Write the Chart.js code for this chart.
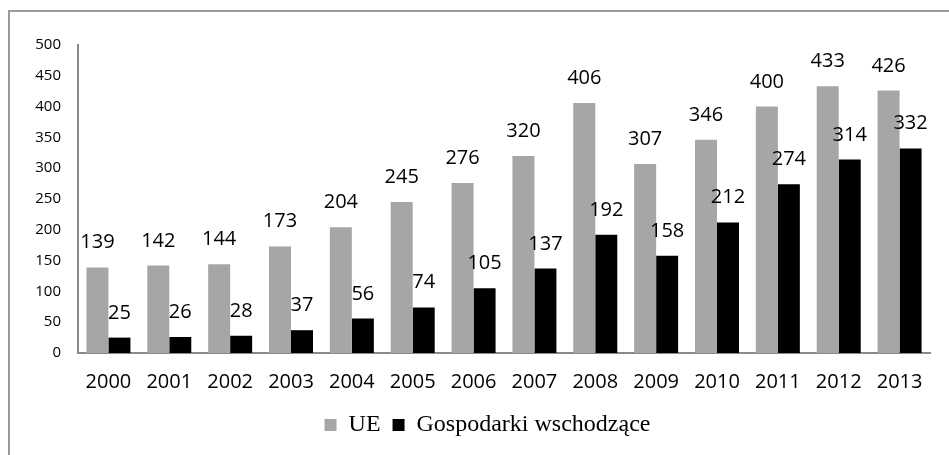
<!DOCTYPE html>
<html>
<head>
<meta charset="utf-8">
<script src="https://cdn.jsdelivr.net/npm/chart.js@4"></script>
<style>
  html, body { margin: 0; padding: 0; background: #fff; }
  #wrap { position: relative; width: 949px; height: 455px; overflow: hidden; }
  #frame { position: absolute; left: 8px; top: 10px; width: 1000px; height: 500px;
           border-left: 2px solid #9a9a9a; border-top: 2px solid #9a9a9a; pointer-events: none; }
  canvas { position: absolute; left: 0; top: 0; }
</style>
</head>
<body>
<div id="wrap">
  <canvas id="c" width="949" height="455"></canvas>
  <div id="frame"></div>
</div>
<script>
const categories = ['2000','2001','2002','2003','2004','2005','2006','2007','2008','2009','2010','2011','2012','2013'];
const seriesUE = [139, 142, 144, 173, 204, 245, 276, 320, 406, 307, 346, 400, 433, 426];
const seriesEmerging = [25, 26, 28, 37, 56, 74, 105, 137, 192, 158, 212, 274, 314, 332];
const seriesNames = ['UE', 'Gospodarki wschodzące'];
const yTicks = { min: 0, max: 500, step: 50 };

const valueLabels = {
  id: 'valueLabels',
  afterDatasetsDraw(chart) {
    const ctx = chart.ctx;
    ctx.save();
    ctx.font = "20px 'Open Sans'";
    ctx.fillStyle = '#000';
    ctx.textAlign = 'center';
    ctx.textBaseline = 'alphabetic';
    chart.data.datasets.forEach((ds, i) => {
      const meta = chart.getDatasetMeta(i);
      meta.data.forEach((el, j) => {
        ctx.fillText(String(ds.data[j]), el.x, el.y - 19);
      });
    });
    ctx.restore();
  }
};

// shift the legend so it is centred like in the original (centre of the framed box)
const legendShift = {
  id: 'legendShift',
  afterLayout(chart) {
    if (chart.legend) { chart.legend.left += 33; }
  }
};

new Chart(document.getElementById('c'), {
  type: 'bar',
  data: {
    labels: categories,
    datasets: [
      { label: seriesNames[0], data: seriesUE, backgroundColor: '#a6a6a6', borderWidth: 0 },
      { label: seriesNames[1], data: seriesEmerging, backgroundColor: '#000000', borderWidth: 0 }
    ]
  },
  options: {
    responsive: false,
    animation: false,
    devicePixelRatio: 1,
    layout: { padding: { left: 12, right: 19, top: 45, bottom: 8 } },
    datasets: { bar: { categoryPercentage: 0.723, barPercentage: 1.0 } },
    plugins: {
      tooltip: { enabled: false },
      legend: {
        position: 'bottom',
        labels: {
          font: { family: "'Liberation Serif'", size: 24 },
          color: '#000',
          boxWidth: 12,
          boxHeight: 12,
          padding: 12
        }
      }
    },
    scales: {
      x: {
        grid: { display: false, drawTicks: false },
        border: { display: true, color: '#8a8a8a', width: 2 },
        ticks: { font: { family: "'Open Sans'", size: 20 }, color: '#000', padding: 17, maxRotation: 0 },
        afterFit(scale) { scale.height = 48; }
      },
      y: {
        min: yTicks.min, max: yTicks.max,
        grid: { display: false, drawTicks: false },
        border: { display: true, color: '#8a8a8a', width: 2 },
        ticks: { stepSize: yTicks.step, font: { family: "'Open Sans'", size: 15 }, color: '#000', padding: 17 },
        afterFit(scale) { scale.width = 66; }
      }
    }
  },
  plugins: [valueLabels, legendShift]
});
</script>
</body>
</html>
